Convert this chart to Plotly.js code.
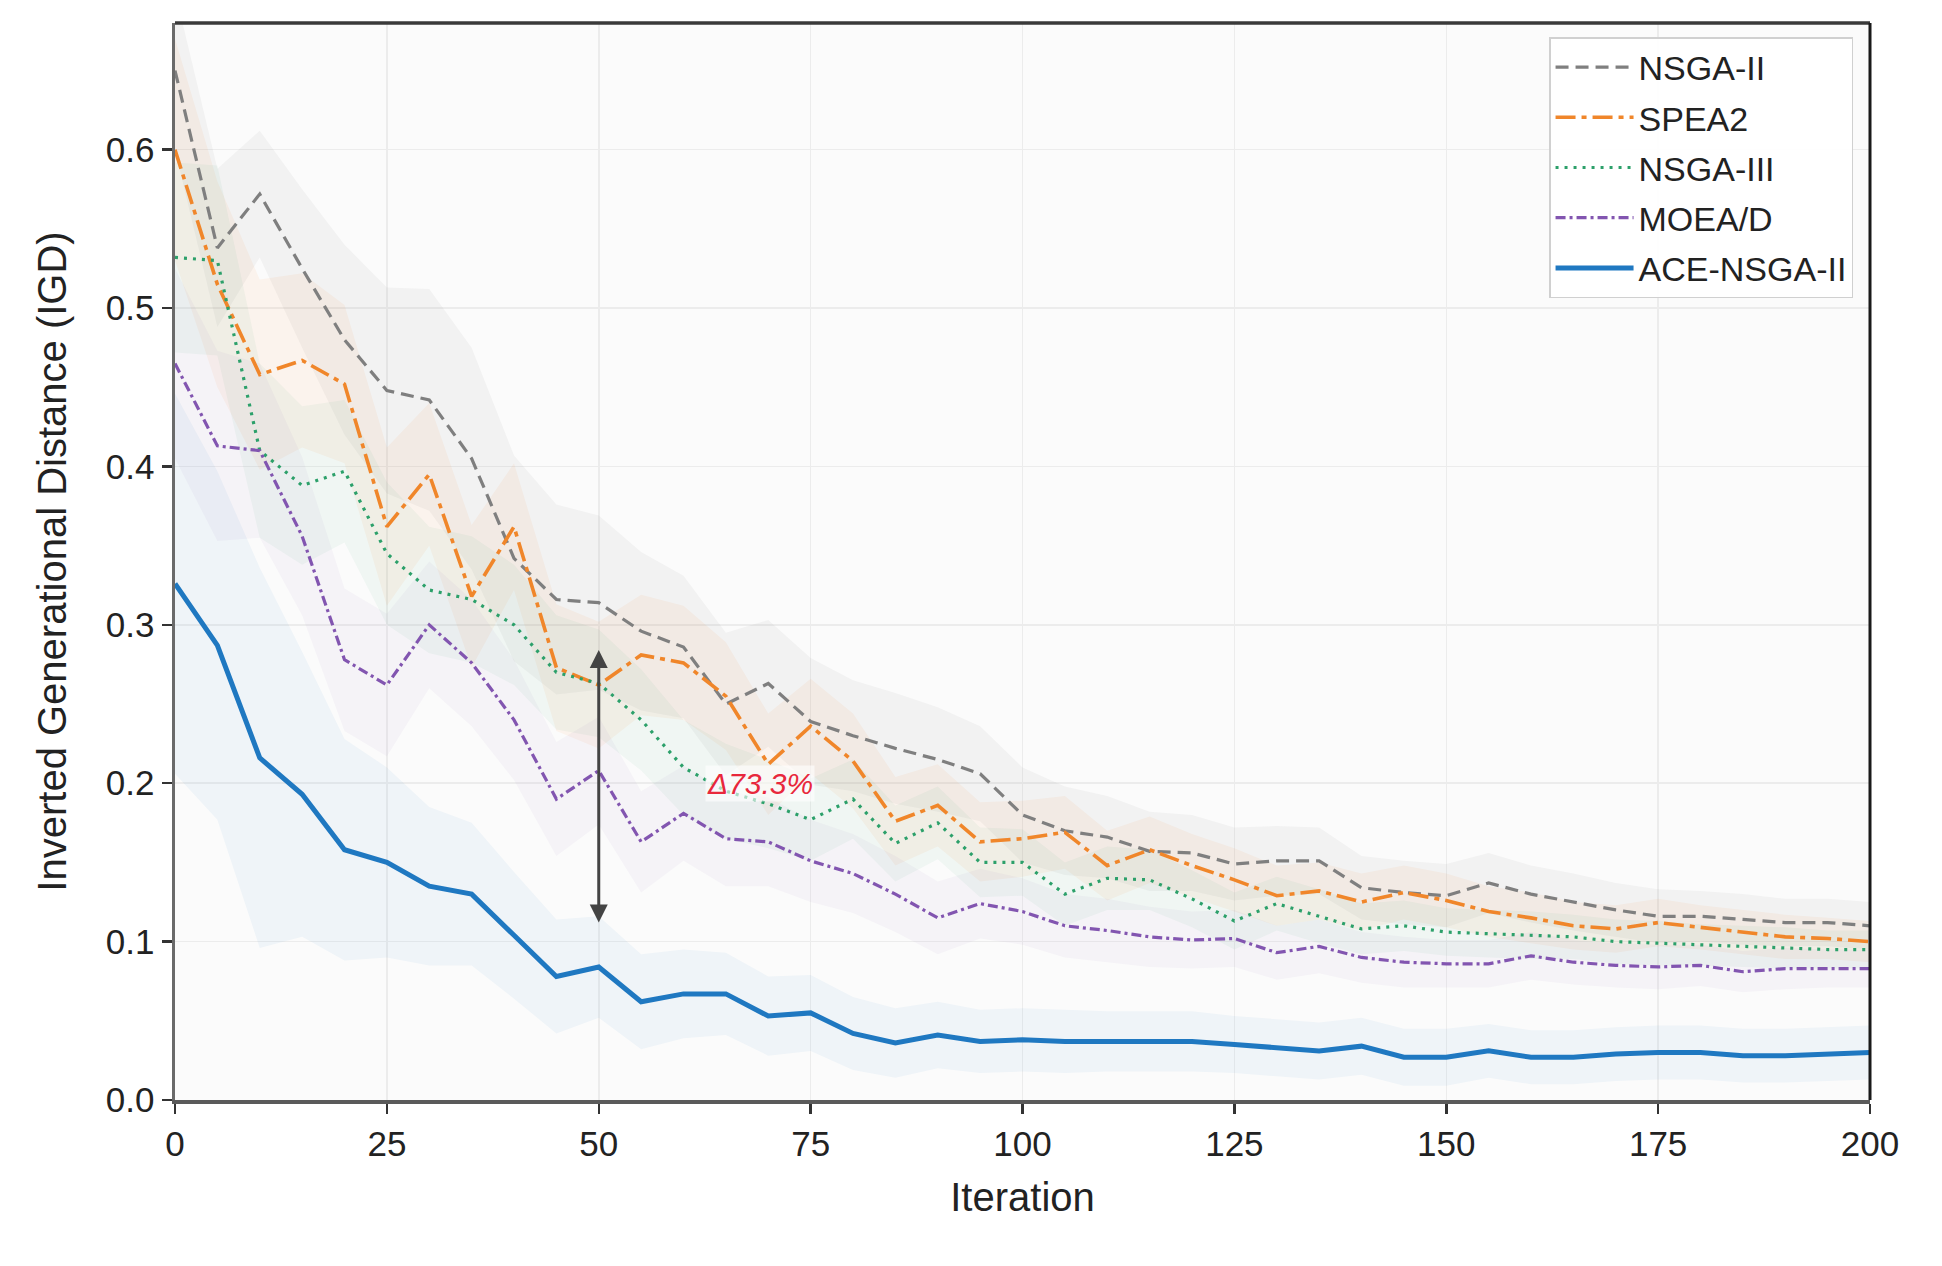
<!DOCTYPE html>
<html>
<head>
<meta charset="utf-8">
<script src="https://cdn.plot.ly/plotly-3.0.1.min.js"></script>
<style>html,body{margin:0;padding:0;background:#fff;}#chart{width:1942px;height:1266px;}</style>
</head>
<body>
<div id="chart"></div>
<script>
const iterations = [0,5,10,15,20,25,30,35,40,45,50,55,60,65,70,75,80,85,90,95,100,105,110,115,120,125,130,135,140,145,150,155,160,165,170,175,180,185,190,195,200];

const nsga2 = [0.65,0.538,0.572,0.525,0.48,0.448,0.442,0.405,0.342,0.316,0.314,0.296,0.286,0.25,0.263,0.239,0.23,0.222,0.215,0.206,0.18,0.17,0.166,0.157,0.156,0.149,0.151,0.151,0.134,0.131,0.129,0.137,0.13,0.125,0.12,0.116,0.116,0.114,0.112,0.112,0.11];
const spea2 = [0.60,0.515,0.458,0.467,0.452,0.362,0.395,0.318,0.362,0.273,0.262,0.281,0.276,0.255,0.212,0.236,0.214,0.176,0.186,0.163,0.165,0.169,0.148,0.158,0.148,0.139,0.129,0.132,0.125,0.131,0.126,0.119,0.115,0.11,0.108,0.112,0.109,0.106,0.103,0.102,0.10];
const nsga3 = [0.532,0.53,0.41,0.388,0.397,0.345,0.322,0.316,0.30,0.27,0.263,0.24,0.21,0.195,0.187,0.177,0.19,0.162,0.175,0.15,0.15,0.13,0.14,0.139,0.127,0.113,0.124,0.116,0.108,0.11,0.106,0.105,0.104,0.103,0.10,0.099,0.098,0.097,0.096,0.095,0.095];
const moead = [0.465,0.413,0.41,0.356,0.278,0.262,0.30,0.276,0.24,0.19,0.208,0.163,0.181,0.165,0.163,0.151,0.143,0.13,0.115,0.124,0.119,0.11,0.107,0.103,0.101,0.102,0.093,0.097,0.09,0.087,0.086,0.086,0.091,0.087,0.085,0.084,0.085,0.081,0.083,0.083,0.083];
const ace = [0.326,0.287,0.216,0.193,0.158,0.15,0.135,0.13,0.104,0.078,0.084,0.062,0.067,0.067,0.053,0.055,0.042,0.036,0.041,0.037,0.038,0.037,0.037,0.037,0.037,0.035,0.033,0.031,0.034,0.027,0.027,0.031,0.027,0.027,0.029,0.03,0.03,0.028,0.028,0.029,0.03];

const nsga2Std = [0.05,0.05,0.04,0.05,0.06,0.065,0.07,0.07,0.065,0.06,0.055,0.05,0.045,0.045,0.04,0.04,0.035,0.035,0.033,0.03,0.03,0.028,0.026,0.025,0.024,0.023,0.022,0.021,0.02,0.02,0.02,0.019,0.018,0.018,0.017,0.017,0.016,0.016,0.015,0.015,0.015];
const spea2Std = [0.07,0.065,0.06,0.055,0.05,0.05,0.045,0.045,0.04,0.04,0.04,0.038,0.036,0.034,0.032,0.03,0.03,0.028,0.026,0.025,0.024,0.023,0.022,0.021,0.02,0.02,0.019,0.018,0.018,0.017,0.017,0.016,0.016,0.015,0.015,0.015,0.014,0.014,0.014,0.013,0.013];
const nsga3Std = [0.06,0.06,0.055,0.05,0.045,0.045,0.04,0.04,0.038,0.036,0.034,0.032,0.03,0.03,0.028,0.026,0.025,0.024,0.023,0.022,0.021,0.02,0.02,0.019,0.018,0.018,0.017,0.017,0.016,0.016,0.015,0.015,0.015,0.014,0.014,0.014,0.013,0.013,0.013,0.012,0.012];
const moeadStd = [0.06,0.06,0.055,0.05,0.045,0.045,0.04,0.04,0.038,0.036,0.034,0.032,0.03,0.03,0.028,0.026,0.025,0.024,0.023,0.022,0.021,0.02,0.02,0.019,0.018,0.018,0.017,0.017,0.016,0.016,0.015,0.015,0.015,0.014,0.014,0.014,0.013,0.013,0.013,0.012,0.012];
const aceStd = [0.12,0.11,0.12,0.09,0.07,0.06,0.05,0.045,0.04,0.036,0.032,0.03,0.028,0.026,0.025,0.024,0.023,0.022,0.021,0.02,0.02,0.02,0.019,0.019,0.019,0.018,0.018,0.018,0.018,0.018,0.018,0.017,0.017,0.017,0.017,0.017,0.017,0.017,0.017,0.017,0.017];

const xTicks = [0,25,50,75,100,125,150,175,200];
const yTicks = [0.0,0.1,0.2,0.3,0.4,0.5,0.6];

const series = [
  {name:'NSGA-II', y:nsga2, sd:nsga2Std, color:'#7f7f7f', band:'rgba(127,127,127,0.065)', dash:'13px,7px', width:3.2},
  {name:'SPEA2', y:spea2, sd:spea2Std, color:'#f0862a', band:'rgba(255,127,14,0.06)', dash:'20px,6px,5px,6px', width:3.6},
  {name:'NSGA-III', y:nsga3, sd:nsga3Std, color:'#2ca06a', band:'rgba(44,160,100,0.05)', dash:'3px,6px', width:3.2},
  {name:'MOEA/D', y:moead, sd:moeadStd, color:'#8255b0', band:'rgba(148,103,189,0.055)', dash:'10px,4px,3px,4px', width:3.2},
  {name:'ACE-NSGA-II', y:ace, sd:aceStd, color:'#1f78c1', band:'rgba(31,119,193,0.055)', dash:'solid', width:5}
];

const traces = [];
series.forEach(s => {
  const upper = s.y.map((v,i)=>v + s.sd[i]);
  const lower = s.y.map((v,i)=>v - s.sd[i]);
  traces.push({
    x: iterations.concat(iterations.slice().reverse()),
    y: upper.concat(lower.slice().reverse()),
    type:'scatter', mode:'lines', fill:'toself', fillcolor:s.band,
    line:{width:0, color:'rgba(0,0,0,0)'}, hoverinfo:'skip', showlegend:false
  });
});
series.forEach((s, k) => {
  traces.push({
    x: iterations, y: s.y, name: s.name, type:'scatter', mode:'lines',
    legendgroup:'g'+k,
    line:{color:s.color, width:s.width, dash:s.dash}
  });
});

const font = 'Liberation Sans, Arial, sans-serif';
const layout = {
  width:1942, height:1266,
  margin:{l:175, r:72, t:23, b:166},
  paper_bgcolor:'#ffffff', plot_bgcolor:'#fbfbfb',
  font:{family:font, color:'#222', size:34},
  showlegend:true,
  legend:{x:0.99, xanchor:'right', y:0.987, yanchor:'top', bgcolor:'rgba(255,255,255,0.92)',
          bordercolor:'#d0d0d0', borderwidth:1.5, tracegroupgap:3, itemwidth:78,
          font:{family:font, size:34, color:'#222'}},
  xaxis:{range:[0,200], tickvals:xTicks, ticktext:xTicks.map(String),
         showline:true, linecolor:'#5a5a5a', linewidth:3.5, mirror:false,
         ticks:'outside', ticklen:10, tickwidth:2.5, tickcolor:'#333',
         showgrid:true, gridcolor:'#ececec', gridwidth:1.5, zeroline:false,
         tickfont:{family:font, size:35, color:'#222'},
         title:{text:'Iteration', font:{family:font, size:40, color:'#222'}, standoff:22}},
  yaxis:{range:[0,0.68], tickvals:yTicks, ticktext:yTicks.map(v=>v.toFixed(1)),
         showline:true, linecolor:'#6a6a6a', linewidth:3.5, mirror:false,
         ticks:'outside', ticklen:10, tickwidth:2.5, tickcolor:'#333',
         showgrid:true, gridcolor:'#ececec', gridwidth:1.5, zeroline:false,
         tickfont:{family:font, size:35, color:'#222'},
         title:{text:'Inverted Generational Distance (IGD)', font:{family:font, size:40, color:'#222'}, standoff:28}},
  shapes:[
    {type:'line', xref:'paper', yref:'paper', x0:0, x1:1, y0:1, y1:1, line:{color:'#3a3a3a', width:3.5}},
    {type:'line', xref:'paper', yref:'paper', x0:1, x1:1, y0:0, y1:1, line:{color:'#1a1a1a', width:3}}
  ],
  annotations:[
    {x:50, y:0.112, ax:50, ay:0.285, xref:'x', yref:'y', axref:'x', ayref:'y',
     text:'', showarrow:true, arrowhead:2, arrowside:'end+start', arrowsize:1.2, arrowwidth:3, arrowcolor:'#444'},
    {x:69, y:0.2, xref:'x', yref:'y', text:'<i>Δ73.3%</i>', showarrow:false,
     font:{family:font, size:30, color:'#e8283c'}, bgcolor:'rgba(255,255,255,0.6)'}
  ]
};

Plotly.newPlot('chart', traces, layout, {displayModeBar:false, staticPlot:true});
</script>
</body>
</html>
